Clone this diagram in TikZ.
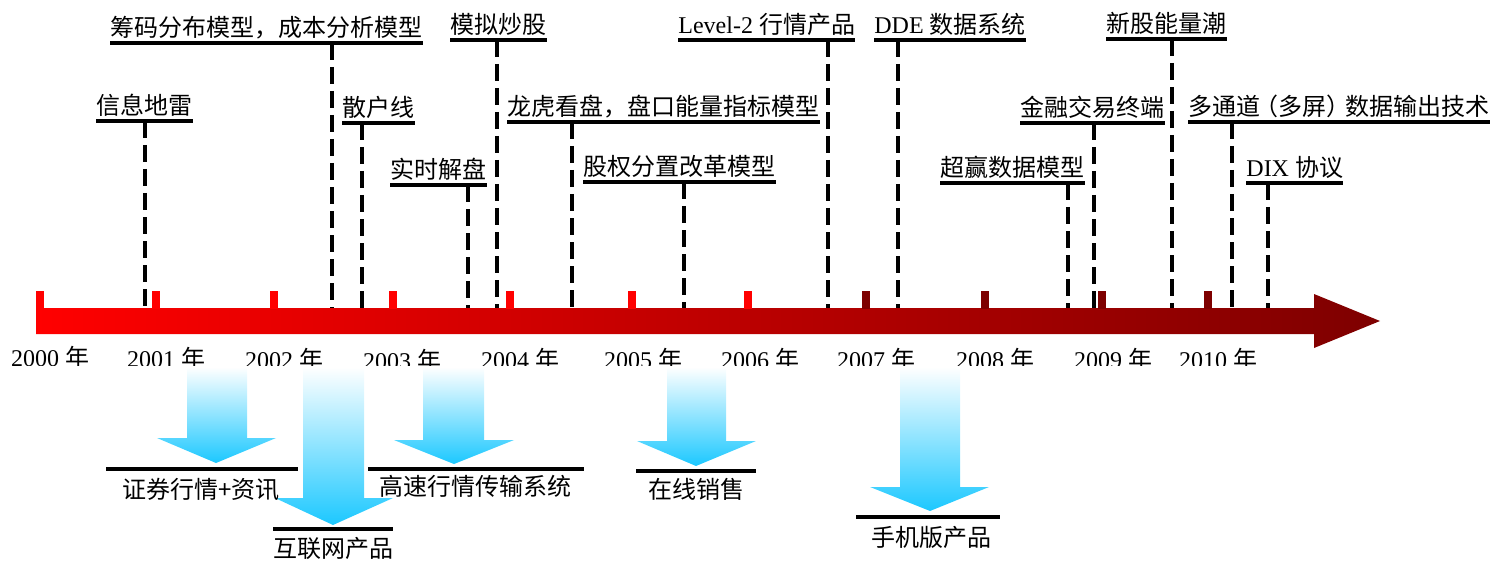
\documentclass[tikz,border=0pt]{standalone}
\usepackage{fontspec}
\setmainfont{Liberation Serif}
\newfontfamily\cjk{Noto Sans CJK SC}
\newcommand\zh[1]{{\cjk #1}}
\newcommand\lpar{\makebox[0.77em][r]{\cjk （}}
\newcommand\rpar{\makebox[0.77em][l]{\cjk ）}}
\definecolor{barred}{HTML}{FF0000}
\definecolor{bardark}{HTML}{7E0000}
\definecolor{skyc}{HTML}{1CC8FF}
\begin{document}
\begin{tikzpicture}[x=0.5pt,y=-0.5pt,
  every node/.style={font=\fontsize{12}{14}\selectfont},
  evt/.style={anchor=south west, inner xsep=0pt, inner ysep=0pt, text depth=3pt},
  uline/.style={line width=1.75pt},
  dashln/.style={line width=1.75pt, dash pattern=on 8.5pt off 3.5pt},
  yr/.style={anchor=base, inner sep=0pt},
  lbl/.style={anchor=base, inner sep=0pt},
  dnarrow/.style={top color=white, bottom color=skyc, draw=none},
  tickr/.style={fill=barred},
  tickd/.style={fill=bardark},
]
\useasboundingbox (0,0) rectangle (1491,561);

% main bar arrow
\path[left color=barred, right color=bardark]
  (36,308) -- (1314,308) -- (1314,294) -- (1380,321) -- (1314,348) -- (1314,334) -- (36,334) -- cycle;

% ticks
\path[tickr] (36,291) rectangle (44,309);
\path[tickr] (152,291) rectangle (160,309);
\path[tickr] (270,291) rectangle (278,309);
\path[tickr] (389,291) rectangle (397,309);
\path[tickr] (506,291) rectangle (514,309);
\path[tickr] (628,291) rectangle (636,309);
\path[tickr] (744,291) rectangle (752,309);
\path[tickd] (862,291) rectangle (870,309);
\path[tickd] (981,291) rectangle (989,309);
\path[tickd] (1098,291) rectangle (1106,309);
\path[tickd] (1204,291) rectangle (1212,309);

% year labels (clipped at bottom)
\begin{scope}
\clip (0,330) rectangle (1491,365);
\node[yr] (y2000) at (50,366) {2000 \zh{年}};
\node[yr] (y2001) at (166,367) {2001 \zh{年}};
\node[yr] (y2002) at (284,368) {2002 \zh{年}};
\node[yr] (y2003) at (402,369) {2003 \zh{年}};
\node[yr] (y2004) at (520,368) {2004 \zh{年}};
\node[yr] (y2005) at (643,368) {2005 \zh{年}};
\node[yr] (y2006) at (760,368) {2006 \zh{年}};
\node[yr] (y2007) at (876,368) {2007 \zh{年}};
\node[yr] (y2008) at (995,368) {2008 \zh{年}};
\node[yr] (y2009) at (1113,368) {2009 \zh{年}};
\node[yr] (y2010) at (1218,368) {2010 \zh{年}};
\end{scope}

% events
\node[evt] (e1) at (110,43) {\zh{筹码分布模型，成本分析模型}};
\node[evt] (e2) at (450,40) {\zh{模拟炒股}};
\node[evt] (e3) at (678,40) {Level-2 \zh{行情产品}};
\node[evt] (e4) at (874,40) {DDE \zh{数据系统}};
\node[evt] (e5) at (1106,39) {\zh{新股能量潮}};
\node[evt] (e6) at (96,121) {\zh{信息地雷}};
\node[evt] (e7) at (342,123) {\zh{散户线}};
\node[evt] (e8) at (507,122) {\zh{龙虎看盘，盘口能量指标模型}};
\node[evt] (e9) at (1020,123) {\zh{金融交易终端}};
\node[evt] (e10) at (1188,122) {\zh{多通道}\lpar\zh{多屏}\rpar\zh{数据输出技术}};
\node[evt] (e11) at (390,185) {\zh{实时解盘}};
\node[evt] (e12) at (583,182) {\zh{股权分置改革模型}};
\node[evt] (e13) at (940,183) {\zh{超赢数据模型}};
\node[evt] (e14) at (1246,183) {DIX \zh{协议}};

\foreach \n in {1,...,14} {
  \draw[uline] (e\n.south west) -- (e\n.south east);
}

% dashed connector ends on bar top
\coordinate (d1) at (332,308);
\coordinate (d2) at (497,308);
\coordinate (d3) at (828,308);
\coordinate (d4) at (898,308);
\coordinate (d5) at (1172,308);
\coordinate (d6) at (145,308);
\coordinate (d7) at (362,308);
\coordinate (d8) at (572,308);
\coordinate (d9) at (1094,308);
\coordinate (d10) at (1232,308);
\coordinate (d11) at (468,308);
\coordinate (d12) at (684,308);
\coordinate (d13) at (1068,308);
\coordinate (d14) at (1268,308);
\foreach \n in {1,...,14} {
  \draw[dashln] (d\n |- e\n.south) -- (d\n);
}

% downward gradient arrows
\path[dnarrow] (187,367) -- (247,367) -- (247,438) -- (276,438) -- (216,463) -- (157,438) -- (187,438) -- cycle;
\path[dnarrow] (303,367) -- (364,367) -- (364,498) -- (393,498) -- (333,525) -- (275,498) -- (303,498) -- cycle;
\path[dnarrow] (423,367) -- (484,367) -- (484,440) -- (514,440) -- (454,464) -- (394,440) -- (423,440) -- cycle;
\path[dnarrow] (667,367) -- (726,367) -- (726,441) -- (756,441) -- (696,466) -- (637,441) -- (667,441) -- cycle;
\path[dnarrow] (900,367) -- (960,367) -- (960,487) -- (989,487) -- (930,511) -- (870,487) -- (900,487) -- cycle;

% result underlines
\draw[uline] (106,469) -- (298,469);
\draw[uline] (273,529) -- (393,529);
\draw[uline] (368,469) -- (584,469);
\draw[uline] (636,471) -- (756,471);
\draw[uline] (856,517) -- (1000,517);

% result labels
\node[lbl] (r1) at (201,498) {\zh{证券行情+资讯}};
\node[lbl] (r2) at (333,557) {\zh{互联网产品}};
\node[lbl] (r3) at (475,495) {\zh{高速行情传输系统}};
\node[lbl] (r4) at (696,498) {\zh{在线销售}};
\node[lbl] (r5) at (931,546) {\zh{手机版产品}};
\end{tikzpicture}
\end{document}
